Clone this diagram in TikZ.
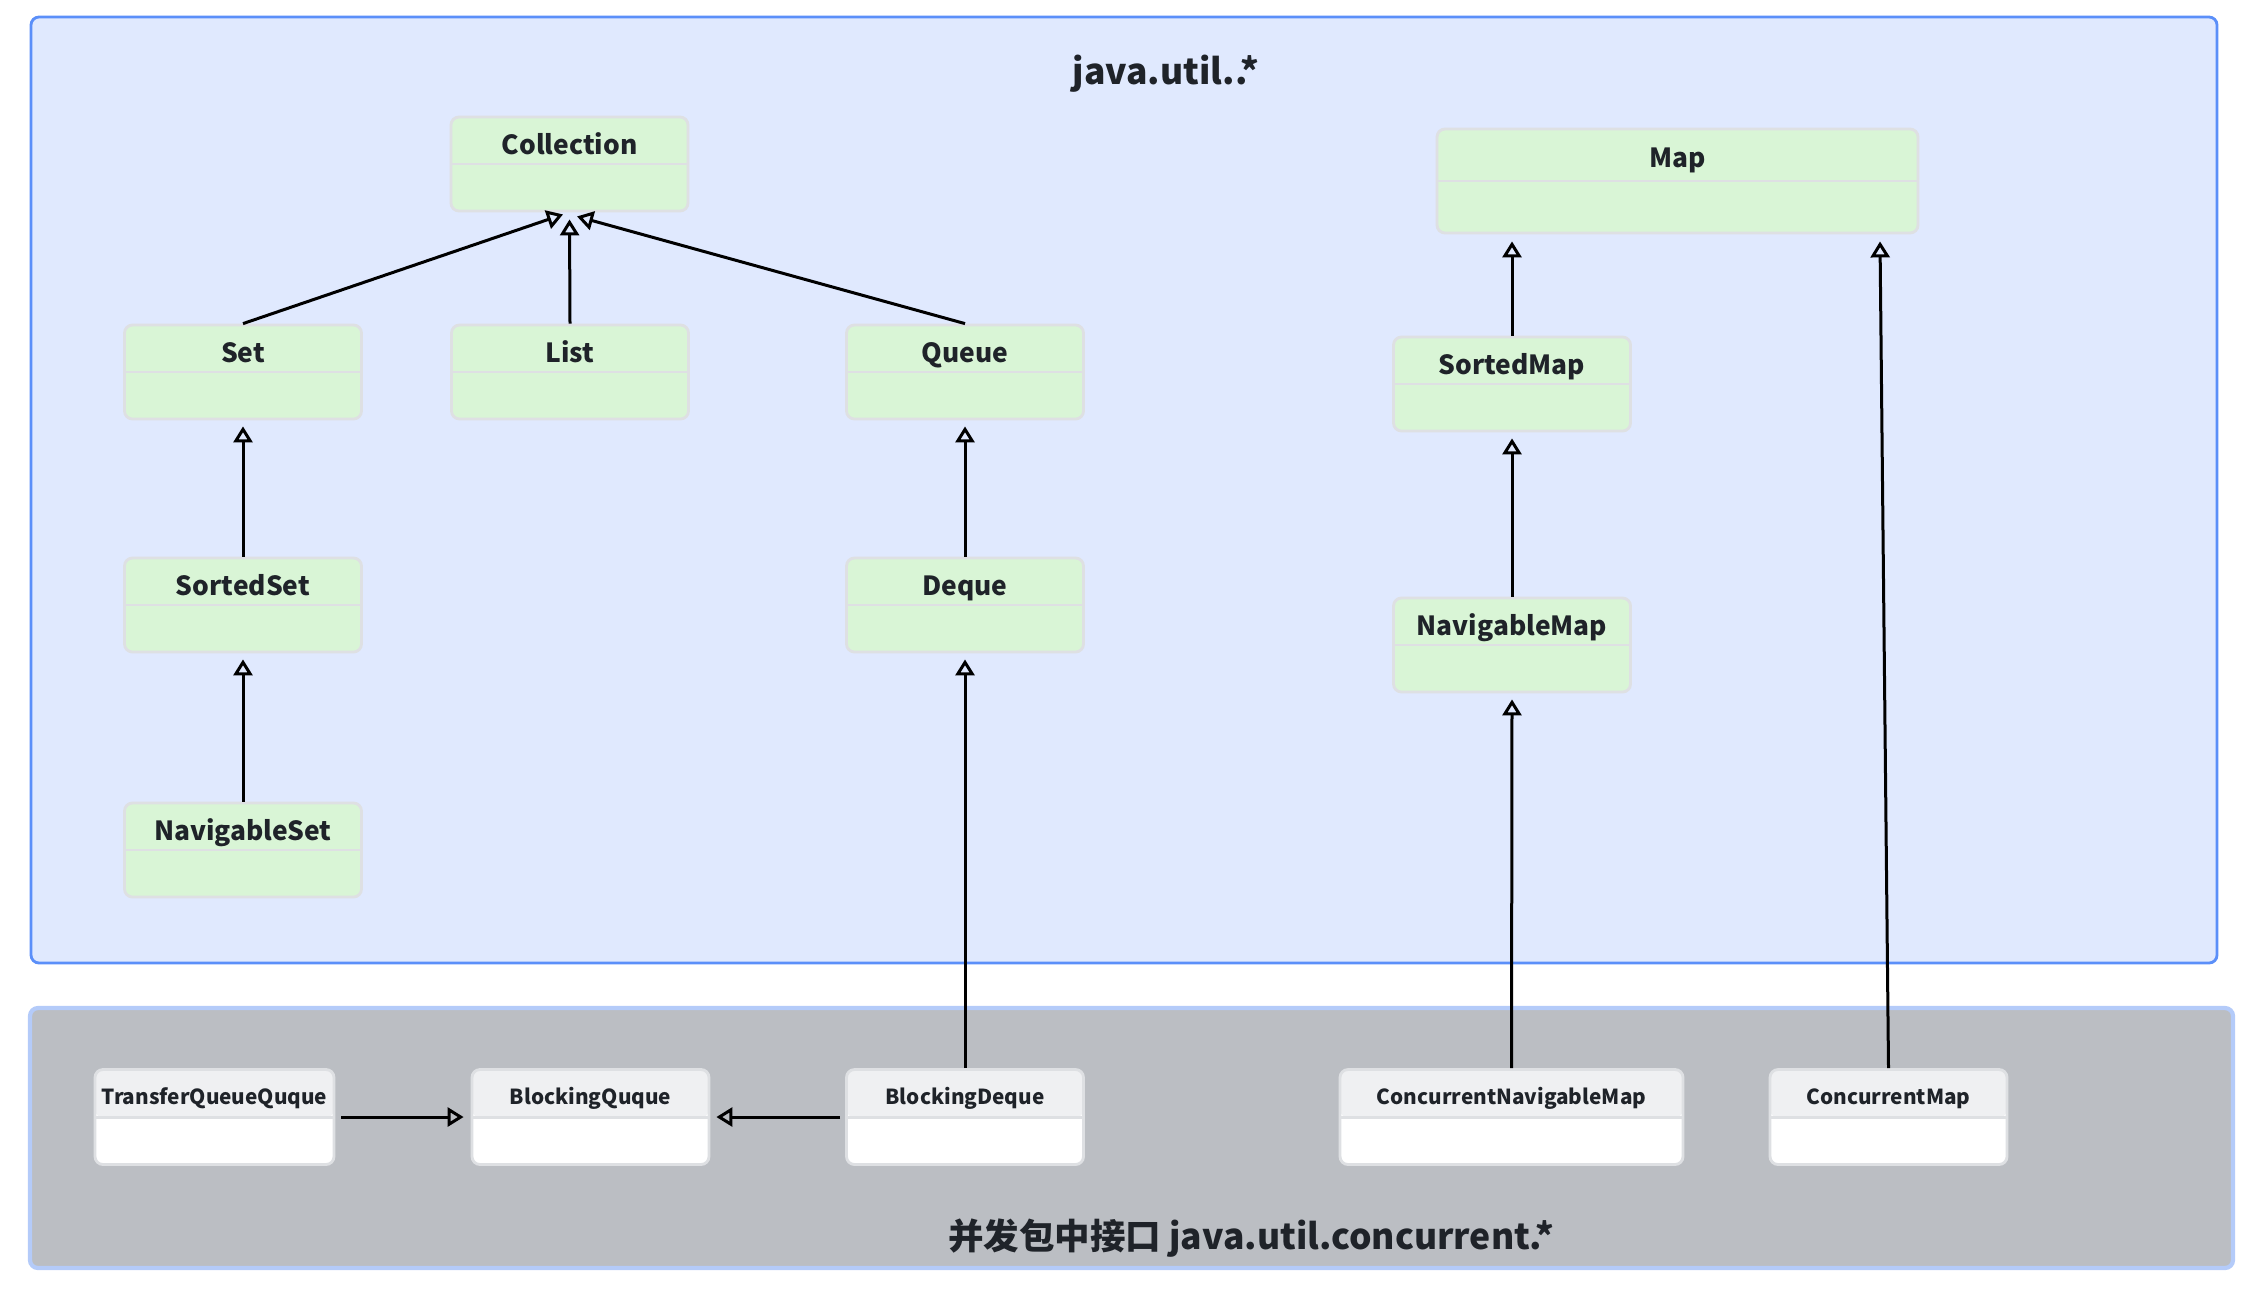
\documentclass[tikz,border=0pt]{standalone}
\usepackage{fontspec}
\setmainfont{Noto Sans CJK SC}
\usetikzlibrary{arrows.meta,calc}
\definecolor{pkgfill}{HTML}{E0E9FE}
\definecolor{pkgline}{HTML}{5B8FF9}
\definecolor{concfill}{HTML}{BBBEC3}
\definecolor{concline}{HTML}{B4CBF9}
\definecolor{ifacefill}{HTML}{D9F5D6}
\definecolor{boxline}{HTML}{DEE0E3}
\definecolor{hdrfill}{HTML}{EFF0F2}
\definecolor{ink}{HTML}{1F2329}
\tikzset{
  pkgbox/.style={draw=pkgline,fill=pkgfill,line width=0.8pt,rounded corners=0.8mm},
  concbox/.style={draw=concline,fill=concfill,line width=1.2pt,rounded corners=0.8mm},
  pkgtitle/.style={text=ink,font=\fontsize{10.1}{12}\selectfont\bfseries,anchor=base},
  boxbase/.style={draw=boxline,line width=0.8pt,rounded corners=0.8mm,text=ink,
    minimum width=23.7mm,inner xsep=0pt,inner ysep=0pt},
  iface/.style={boxbase,fill=ifacefill,font=\fontsize{7.5}{9}\selectfont\bfseries,
    text height=3.7mm,text depth=5.7mm,
    path picture={\draw[boxline,line width=0.8pt]
      ([yshift=-#1]path picture bounding box.north west)--([yshift=-#1]path picture bounding box.north east);}},
  iface/.default=4.7mm,
  ciface/.style={boxbase,fill=white,font=\fontsize{5.9}{7}\selectfont\bfseries,
    text height=3.45mm,text depth=6.05mm,
    path picture={\fill[hdrfill] (path picture bounding box.north west) rectangle ([yshift=-4.8mm]path picture bounding box.north east);
      \draw[boxline,line width=0.8pt]
      ([yshift=-4.8mm]path picture bounding box.north west)--([yshift=-4.8mm]path picture bounding box.north east);}},
  extends/.style={->,line width=0.3mm}
}
\begin{document}
\begin{tikzpicture}[>={Triangle[open,width=1.9mm,length=1.6mm]},x=0.1mm,y=-0.1mm]
\useasboundingbox (0,0) rectangle (2256,1294);
\draw[pkgbox] (31,17) rectangle (2217,963);
\draw[concbox] (30,1008) rectangle (2233,1268);
\node[pkgtitle] (utiltitle) at (1166,84) {java.util..*};
\node[pkgtitle] (conctitle) at (1251,1249) {并发包中接口 java.util.concurrent.*};

\node[iface] (coll) at (569.5,164) {Collection};
\node[iface] (set) at (243,372) {Set};
\node[iface] (list) at (570,372) {List};
\node[iface] (queue) at (965,372) {Queue};
\node[iface] (sortedset) at (243,605) {SortedSet};
\node[iface] (deque) at (965,605) {Deque};
\node[iface] (navset) at (243,850) {NavigableSet};
\node[iface=5.2mm,minimum width=48.1mm,text height=3.85mm,text depth=6.55mm] (map) at (1677.5,181) {Map};
\node[iface] (sortedmap) at (1512,384) {SortedMap};
\node[iface] (navmap) at (1512,645) {NavigableMap};

\node[ciface,minimum width=23.9mm] (tqq) at (214.5,1117) {TransferQueueQuque};
\node[ciface] (bq) at (590.5,1117) {BlockingQuque};
\node[ciface] (bdeque) at (965,1117) {BlockingDeque};
\node[ciface,minimum width=34.3mm] (cnmap) at (1511.5,1117) {ConcurrentNavigableMap};
\node[ciface] (cmap) at (1888.5,1117) {ConcurrentMap};

\draw[extends] (set.north) -- ($(coll.south)+(-6.5,2)$);
\draw[extends] (list.north) -- ($(coll.south)+(0,7)$);
\draw[extends] (queue.north) -- ($(coll.south)+(7.5,4)$);
\draw[extends] (sortedset.north) -- ($(set.south)+(0,6)$);
\draw[extends] (navset.north) -- ($(sortedset.south)+(0,6)$);
\draw[extends] (deque.north) -- ($(queue.south)+(0,6)$);
\draw[extends] (bdeque.north) -- ($(deque.south)+(0,6)$);
\draw[extends] (sortedmap.north) -- ($(sortedmap.north |- map.south)+(0,7)$);
\draw[extends] (navmap.north) -- ($(sortedmap.south)+(0,6)$);
\draw[extends] (cnmap.north) -- ($(navmap.south)+(0,6)$);
\draw[extends] (cmap.north) -- ($(map.south)+(202.5,7)$);
\draw[extends,shorten <=0.6mm,shorten >=0.7mm] (tqq.east) -- (bq.west);
\draw[extends,shorten <=0.5mm,shorten >=0.6mm] (bdeque.west) -- (bq.east);
\end{tikzpicture}
\end{document}
